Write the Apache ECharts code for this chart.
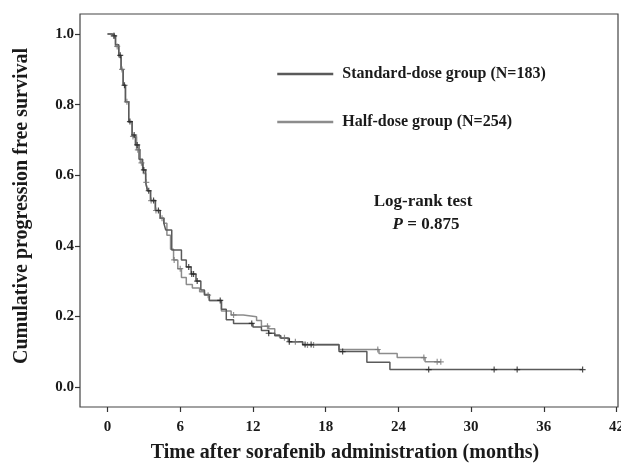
<!DOCTYPE html>
<html>
<head>
<meta charset="utf-8">
<script src="https://cdn.jsdelivr.net/npm/echarts@6/dist/echarts.min.js"></script>
<style>html,body{margin:0;padding:0;background:#fff}#c{width:621px;height:466px}</style>
</head>
<body>
<div id="c"></div>
<script>
// Tick labels
var xTicks = [0, 6, 12, 18, 24, 30, 36, 42];
var yTicks = [0, 0.2, 0.4, 0.6, 0.8, 1.0];

// Standard-dose group (N=183): step times (months) and survival
var stdTime = [0, 0.4, 0.66, 0.93, 1.12, 1.29, 1.48, 1.75, 2.03, 2.3, 2.6, 2.9, 3.15, 3.3, 3.55, 3.95, 4.35, 4.65, 4.8, 5.3, 6.1, 6.5, 6.9, 7.3, 7.7, 8.0, 8.4, 9.4, 9.8, 10.4, 12.0, 12.7, 13.3, 13.8, 14.3, 15.0, 16.1, 19.1, 21.4, 23.3, 39.2];
var stdSurv = [1.0, 0.995, 0.97, 0.94, 0.90, 0.855, 0.808, 0.752, 0.714, 0.686, 0.645, 0.615, 0.58, 0.556, 0.528, 0.50, 0.478, 0.464, 0.445, 0.388, 0.36, 0.34, 0.32, 0.30, 0.275, 0.262, 0.245, 0.22, 0.19, 0.18, 0.17, 0.16, 0.152, 0.145, 0.138, 0.128, 0.12, 0.10, 0.07, 0.049, 0.049];
var stdCensorTime = [0.55, 1.05, 1.4, 1.85, 2.2, 2.45, 3.0, 3.4, 3.8, 4.2, 6.7, 6.95, 7.1, 7.4, 9.3, 11.9, 13.3, 15.0, 16.3, 16.8, 19.4, 26.5, 31.9, 33.8, 39.2];
var stdCensorSurv = [0.995, 0.94, 0.855, 0.752, 0.714, 0.686, 0.615, 0.556, 0.528, 0.50, 0.34, 0.32, 0.32, 0.30, 0.245, 0.18, 0.152, 0.128, 0.12, 0.12, 0.10, 0.049, 0.049, 0.049, 0.049];

// Half-dose group (N=254)
var halfTime = [0, 0.4, 0.66, 0.93, 1.12, 1.29, 1.48, 1.75, 2.03, 2.4, 2.7, 2.95, 3.15, 3.3, 3.55, 3.95, 4.35, 4.65, 4.9, 5.2, 5.45, 5.8, 6.1, 6.5, 7.0, 7.6, 8.0, 8.4, 9.4, 10.2, 11.2, 12.3, 12.7, 13.3, 13.8, 14.2, 14.9, 16.1, 19.1, 22.4, 23.9, 26.2, 27.5];
var halfSurv = [1.0, 0.995, 0.965, 0.935, 0.90, 0.855, 0.808, 0.75, 0.71, 0.672, 0.635, 0.605, 0.58, 0.556, 0.528, 0.50, 0.478, 0.464, 0.43, 0.39, 0.36, 0.335, 0.31, 0.29, 0.28, 0.27, 0.26, 0.245, 0.215, 0.204, 0.199, 0.188, 0.172, 0.165, 0.148, 0.139, 0.128, 0.119, 0.106, 0.095, 0.083, 0.071, 0.071];
var halfCensorTime = [0.5, 0.8, 1.2, 1.6, 2.1, 2.5, 2.8, 3.2, 3.6, 4.0, 4.5, 5.5, 6.0, 8.3, 10.4, 13.2, 14.6, 15.5, 16.5, 17.0, 22.3, 26.1, 27.2, 27.5];
var halfCensorSurv = [0.995, 0.965, 0.90, 0.808, 0.71, 0.672, 0.635, 0.58, 0.528, 0.50, 0.478, 0.36, 0.335, 0.26, 0.204, 0.172, 0.139, 0.128, 0.119, 0.119, 0.106, 0.083, 0.071, 0.071];

var seriesNames = ['Standard-dose group (N=183)', 'Half-dose group (N=254)'];

function zip(a, b) { return a.map(function (v, i) { return [v, b[i]]; }); }

var serif = 'Liberation Serif';
var cross = 'path://M4,0 H6 V4 H10 V6 H6 V10 H4 V6 H0 V4 H4 Z';

var chart = echarts.init(document.getElementById('c'), null, {renderer: 'canvas'});
chart.setOption({
  animation: false,
  backgroundColor: '#fff',
  grid: {left: 80, right: 3, top: 14, bottom: 59, show: true, borderColor: '#444', borderWidth: 1.2,
    backgroundColor: 'transparent', containLabel: false, outerBoundsMode: 'none'},
  xAxis: {
    type: 'value', min: -2.27, max: 42.12,
    axisLine: {show: false, onZero: false},
    axisTick: {show: true, length: 5, customValues: xTicks, lineStyle: {color: '#333', width: 1.2}},
    axisLabel: {customValues: xTicks, margin: 13, fontFamily: serif, fontWeight: 'bold', fontSize: 15, color: '#1a1a1a'},
    splitLine: {show: false}
  },
  yAxis: {
    type: 'value', min: -0.057, max: 1.057,
    axisLine: {show: false, onZero: false},
    axisTick: {show: true, length: 5, customValues: yTicks, lineStyle: {color: '#333', width: 1.2}},
    axisLabel: {customValues: yTicks, margin: 6, fontFamily: serif, fontWeight: 'bold', fontSize: 15, color: '#1a1a1a',
      formatter: function (v) { return (+v).toFixed(1); }},
    splitLine: {show: false}
  },
  legend: {
    data: seriesNames, orient: 'vertical', left: 276, top: 66, padding: 0,
    itemWidth: 56, itemHeight: 14, itemGap: 32,
    itemStyle: {opacity: 0},
    lineStyle: {width: 2.5},
    textStyle: {fontFamily: serif, fontWeight: 'bold', fontSize: 16, color: '#1a1a1a', padding: [0, 0, 0, 4]}
  },
  series: [
    {name: seriesNames[1], type: 'line', step: 'end', symbol: 'none', data: zip(halfTime, halfSurv),
      lineStyle: {color: '#8c8c8c', width: 1.5}, itemStyle: {color: '#8c8c8c'}, z: 2},
    {name: seriesNames[0], type: 'line', step: 'end', symbol: 'none', data: zip(stdTime, stdSurv),
      lineStyle: {color: '#5a5a5a', width: 1.5}, itemStyle: {color: '#5a5a5a'}, z: 3},
    {name: 'half-censor', type: 'scatter', symbol: cross, symbolSize: 6, data: zip(halfCensorTime, halfCensorSurv),
      itemStyle: {color: '#777'}, z: 4},
    {name: 'std-censor', type: 'scatter', symbol: cross, symbolSize: 6, data: zip(stdCensorTime, stdCensorSurv),
      itemStyle: {color: '#222'}, z: 5}
  ],
  graphic: [
    {type: 'text', x: 423, y: 202, style: {text: 'Log-rank test', font: 'bold 17px "Liberation Serif"', fill: '#1a1a1a', align: 'center', verticalAlign: 'middle'}},
    {type: 'text', x: 426, y: 225, style: {text: '{i|P} = 0.875', font: 'bold 17px "Liberation Serif"', fill: '#1a1a1a', align: 'center', verticalAlign: 'middle',
      rich: {i: {fontStyle: 'italic', fontWeight: 'bold', fontSize: 17, fontFamily: serif, fill: '#1a1a1a'}}}},
    {type: 'text', x: 345, y: 453, style: {text: 'Time after sorafenib administration (months)', font: 'bold 20px "Liberation Serif"', fill: '#1a1a1a', align: 'center', verticalAlign: 'middle'}},
    {type: 'text', x: 22, y: 206, rotation: Math.PI / 2, style: {text: 'Cumulative progression free survival', font: 'bold 20px "Liberation Serif"', fill: '#1a1a1a', align: 'center', verticalAlign: 'middle'}}
  ]
});
</script>
</body>
</html>
